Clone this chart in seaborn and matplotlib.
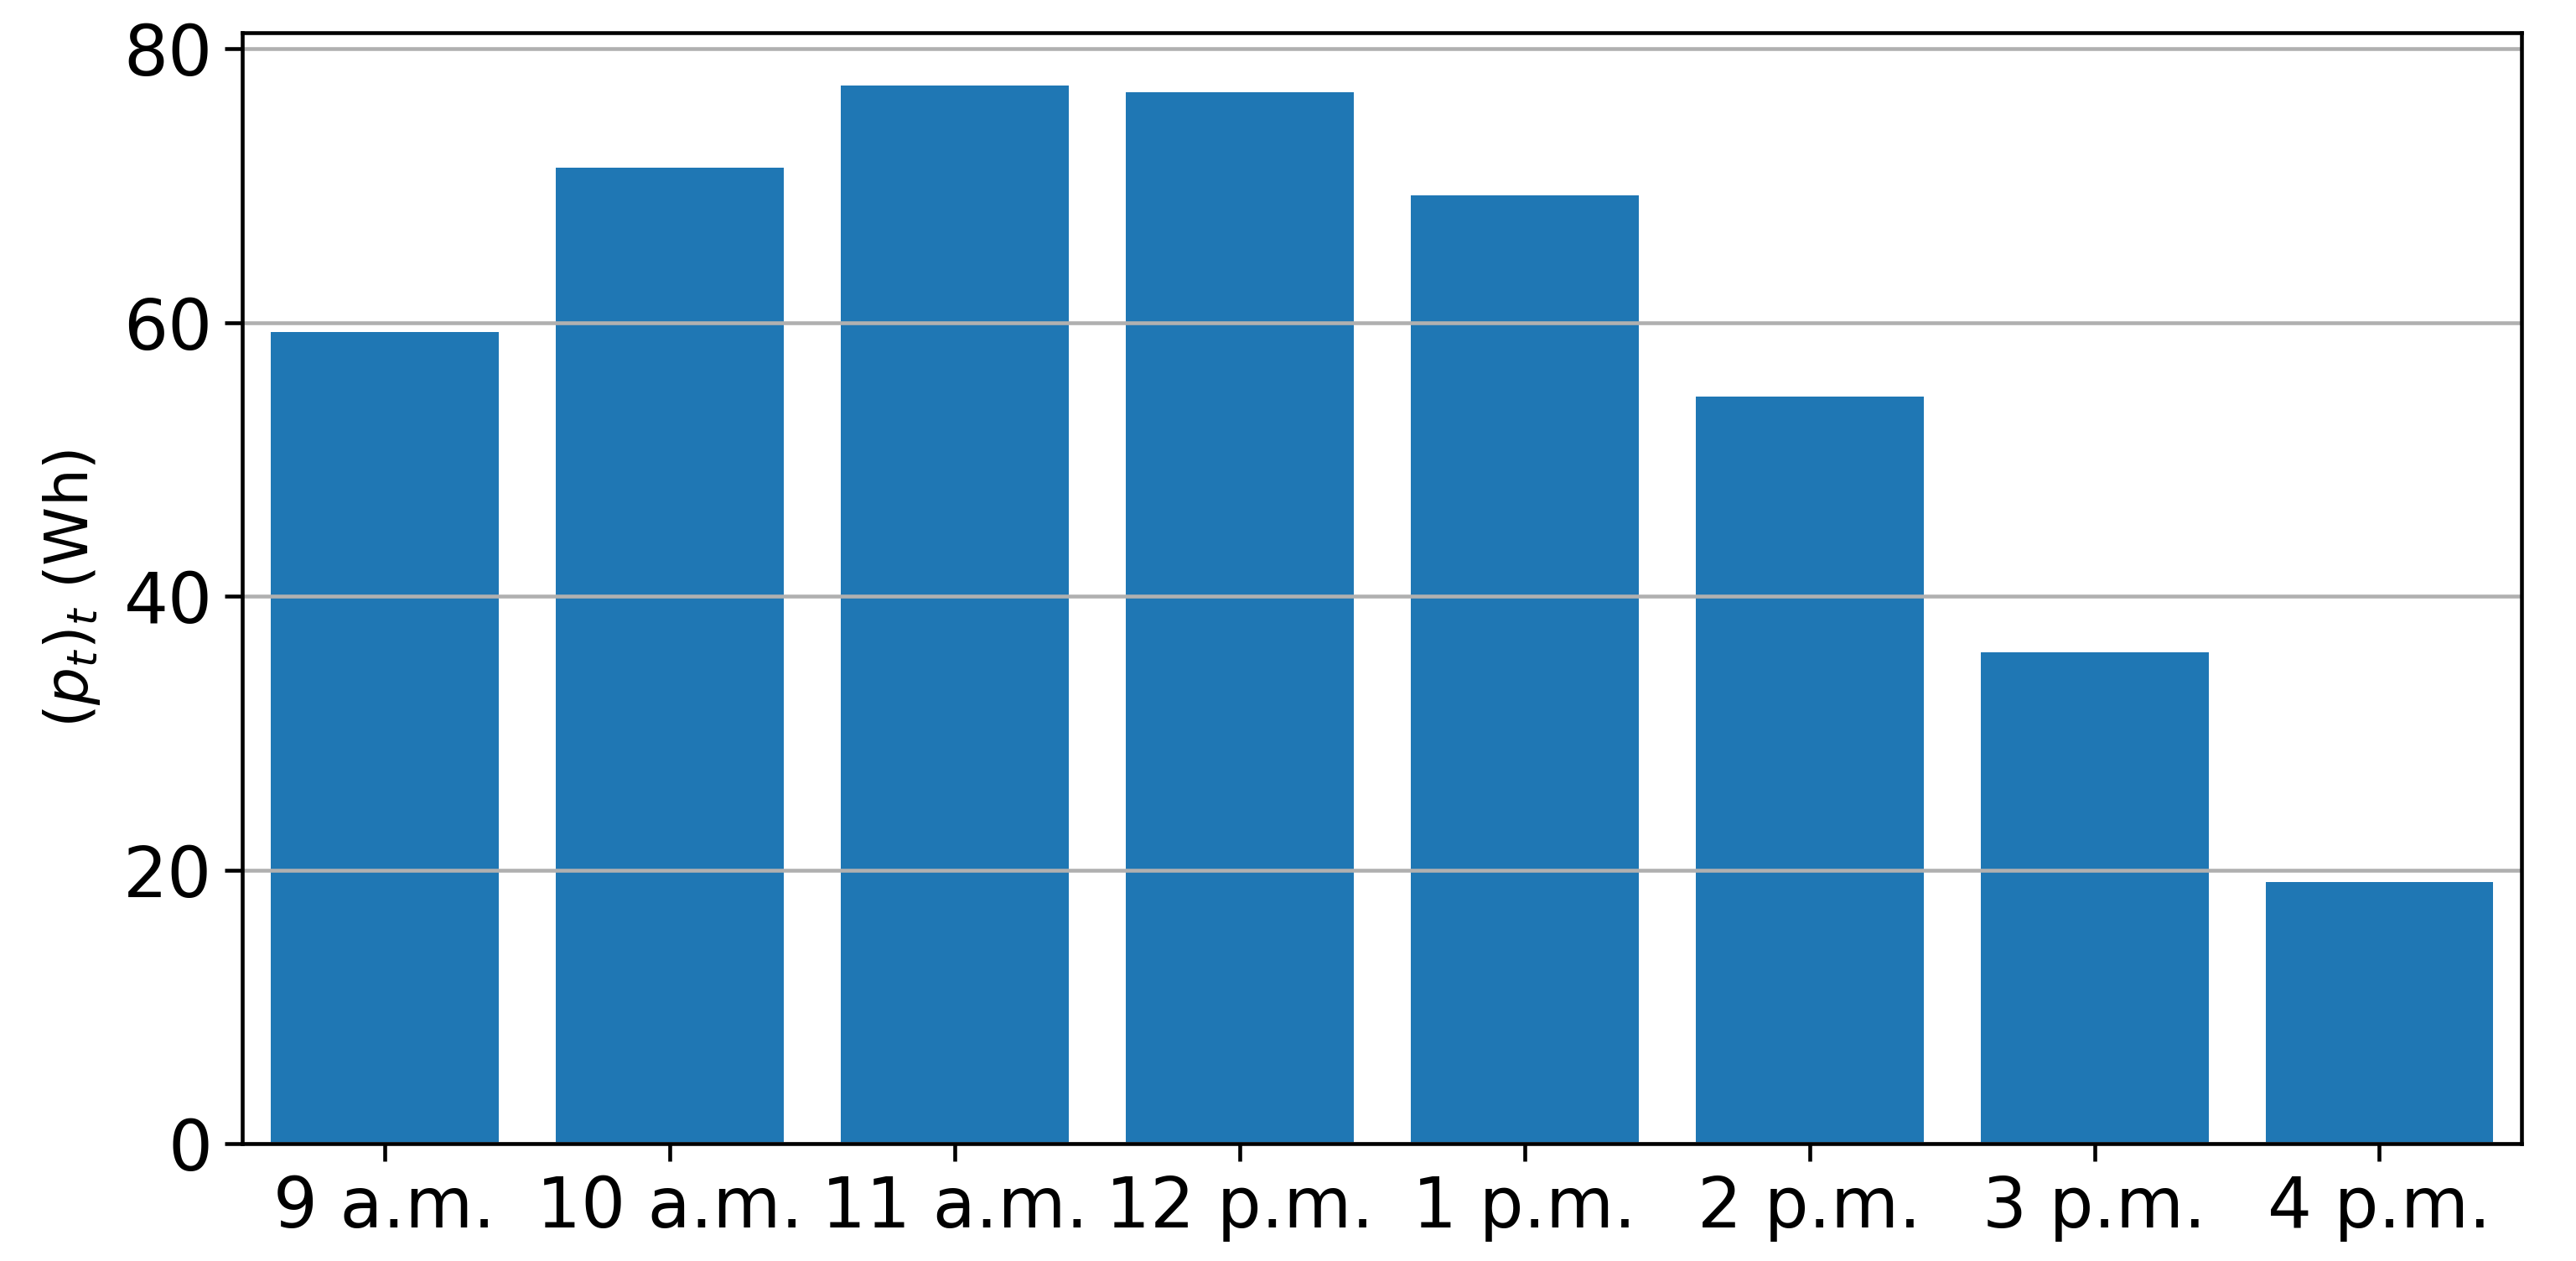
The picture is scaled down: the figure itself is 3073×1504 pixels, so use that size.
import seaborn as sns
import pandas as pd
import matplotlib.pyplot as plt

hours = ["9 a.m.", "10 a.m.", "11 a.m.", "12 p.m.", "1 p.m.", "2 p.m.", "3 p.m.", "4 p.m."]
energy_wh = [59.3, 71.3, 77.3, 76.8, 69.3, 54.6, 35.9, 19.1]


def main():
    df = pd.DataFrame({"hour": hours, "energy": energy_wh})

    fig = plt.figure(figsize=(3073 / 300, 1504 / 300), dpi=300)
    ax = fig.add_axes([0.094, 0.093, 0.885, 0.881])
    sns.barplot(data=df, x="hour", y="energy", color="#1f77b4", saturation=1, ax=ax)

    ax.yaxis.grid(True, linewidth=1.1)
    ax.set_xlabel("")
    ax.set_ylabel("$(p_t)_t$ (Wh)", fontsize=17, labelpad=6)
    ax.tick_params(labelsize=20, length=5, width=1.1)
    ax.set_yticks([0, 20, 40, 60, 80])
    for s in ax.spines.values():
        s.set_linewidth(1.1)

    fig.savefig("out.png", dpi=300)


if __name__ == "__main__":
    main()
